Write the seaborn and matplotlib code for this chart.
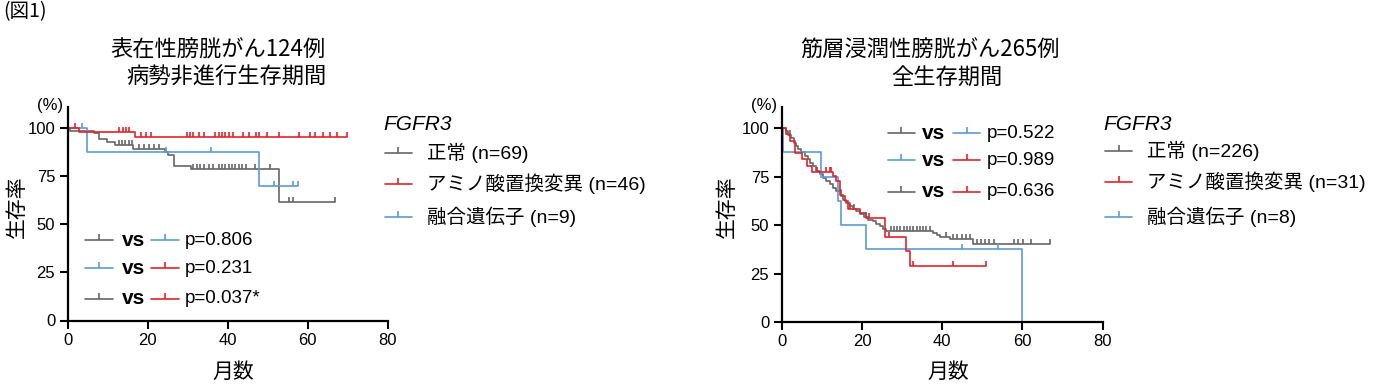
import numpy as np
import pandas as pd
import matplotlib
matplotlib.use("Agg")
import matplotlib.pyplot as plt
from matplotlib.lines import Line2D
import seaborn as sns

# ---- data (months, survival %) ----
# left: superficial bladder cancer, progression-free survival
nmibc_gray_t = [0, 0.6, 6.5, 7.8, 9.8, 11.9, 16.4, 24.2, 25.0, 26.5, 30.7, 52.8, 66.7]
nmibc_gray_s = [100, 98.6, 97.1, 94.0, 92.5, 90.9, 88.9, 87.6, 86.1, 80.0, 78.5, 61.7, 61.7]
nmibc_gray_cens = [12.7, 13.5, 14.3, 15.2, 16.0, 17.7, 19.0, 20.2, 21.5, 22.7, 31.4, 32.3, 33.1,
                   34.1, 35.2, 36.4, 37.7, 38.5, 39.3, 40.2, 41.0, 41.8, 42.7, 43.5, 44.6, 46.8,
                   50.6, 55.4, 56.3, 66.7]
nmibc_red_t = [0, 2.8, 16.8, 69.8]
nmibc_red_s = [100, 97.8, 95.3, 95.3]
nmibc_red_cens = [1.8, 12.8, 13.7, 14.5, 15.3, 18.3, 19.6, 20.8, 29.8, 30.6, 31.4, 32.8, 34.1,
                  36.8, 37.8, 38.6, 39.4, 40.3, 41.4, 43.9, 45.2, 47.0, 47.9, 49.8, 52.7, 57.7,
                  60.6, 61.8, 63.8, 65.6, 67.4, 69.8]
nmibc_blue_t = [0, 4.9, 47.7, 57.5]
nmibc_blue_s = [100, 87.5, 70.0, 70.0]
nmibc_blue_cens = [3.5, 24.5, 35.8, 51.6, 56.4, 57.5]

# right: muscle-invasive bladder cancer, overall survival
mibc_gray_t = [0, 1.15, 1.57, 2.4, 3.07, 3.65, 4.06, 4.9, 5.73, 6.56, 6.98, 7.81, 8.64, 9.47,
               10.3, 11.1, 11.96, 12.8, 13.6, 14.5, 15.3, 16.1, 17.0, 17.8, 18.6, 19.4, 20.5,
               21.5, 22.8, 23.6, 24.4, 25.3, 26.1, 37.6, 38.6, 39.5, 42.0, 47.8, 66.9]
mibc_gray_s = [100, 98.6, 96.5, 94.8, 92.5, 90.8, 89.1, 87.4, 85.6, 83.9, 82.2, 80.4, 77.8, 76.1,
               74.4, 72.7, 70.9, 69.2, 67.5, 65.7, 63.1, 61.4, 59.7, 58.5, 57.1, 55.7, 54.0,
               52.8, 51.9, 50.5, 49.3, 48.1, 47.0, 46.0, 45.1, 44.0, 42.6, 40.0, 40.0]
mibc_gray_cens = [2.0, 18.0, 21.0, 27.2, 28.0, 28.8, 29.6, 30.4, 31.2, 32.0, 32.8, 33.6, 34.4,
                  35.2, 36.0, 36.9, 41.0, 42.8, 43.8, 44.9, 46.0, 47.0, 48.6, 49.7, 50.7, 51.7,
                  52.8, 58.0, 59.0, 60.1, 62.1, 66.9]
mibc_red_t = [0, 1.0, 2.0, 3.3, 5.0, 6.2, 7.5, 12.8, 13.6, 14.5, 14.9, 15.7, 16.5, 19.4, 21.1,
              25.8, 30.9, 32.0, 50.9]
mibc_red_s = [100, 96.8, 93.5, 87.1, 83.9, 80.6, 77.4, 75.2, 72.6, 68.3, 64.9, 62.3, 58.5, 56.2,
              53.6, 44.0, 36.5, 29.1, 29.1]
mibc_red_cens = [8.9, 11.1, 12.0, 12.4, 17.0, 21.7, 26.8, 32.8, 42.8, 50.9]
mibc_blue_t = [0, 0.3, 9.9, 14.0, 14.9, 20.9, 59.9]
mibc_blue_s = [100, 87.5, 75.0, 62.5, 50.0, 37.5, 0]
mibc_blue_cens = [44.9, 53.9]

group_labels = ["正常", "アミノ酸置換変異", "融合遺伝子"]
nmibc_n = [69, 46, 9]
mibc_n = [226, 31, 8]
nmibc_p = ["p=0.806", "p=0.231", "p=0.037*"]
mibc_p = ["p=0.522", "p=0.989", "p=0.636"]
pairs = [(0, 2), (2, 1), (0, 1)]  # gray vs blue, blue vs red, gray vs red
titles = [("表在性膀胱がん124例", "病勢非進行生存期間"), ("筋層浸潤性膀胱がん265例", "全生存期間")]

GRAY, RED, BLUE = "#666666", "#e0242a", "#5b9bd5"
colors = [GRAY, RED, BLUE]

sns.set_style("ticks")
plt.rcParams["font.family"] = ["Liberation Sans", "Noto Sans CJK JP"]
plt.rcParams["text.color"] = "black"
CJK = ["Noto Sans CJK JP", "DejaVu Sans"]

W, H = 1381, 386
fig = plt.figure(figsize=(W / 100, H / 100), dpi=100)


def fx(x):
    return x / W


def fy(y):
    return 1 - y / H


def km(ax, t, s, cens, color):
    df = pd.DataFrame({"t": t, "s": s})
    sns.lineplot(data=df, x="t", y="s", ax=ax, color=color, lw=1.2,
                 drawstyle="steps-post", sort=False, estimator=None)
    idx = np.searchsorted(np.array(t), np.array(cens), side="right") - 1
    cy = np.array(s)[idx]
    cd = pd.DataFrame({"t": cens, "s": cy})
    sns.scatterplot(data=cd, x="t", y="s", ax=ax, marker=2, s=13, color=color,
                    linewidth=1.2, zorder=4)


def handle(x0, x1, y, color, tr):
    fig.add_artist(Line2D([x0, x1], [y, y], color=color, lw=1.2, transform=tr))
    fig.add_artist(Line2D([(x0 + x1) / 2], [y], color=color, marker=2, ms=4.5,
                          mew=1.2, ls="none", transform=tr))


panels = [
    dict(curves=[(nmibc_gray_t, nmibc_gray_s, nmibc_gray_cens),
                 (nmibc_red_t, nmibc_red_s, nmibc_red_cens),
                 (nmibc_blue_t, nmibc_blue_s, nmibc_blue_cens)],
         n=nmibc_n, p=nmibc_p, rect=[fx(67.7), fy(320.5), fx(320), 213.8 / H],
         rows=[0.3765, 0.2455, 0.1006], cols=[0.054, 0.142, 0.168, 0.260, 0.348, 0.367],
         title_x=[218.5, 226], ylab_x=17, xlab_x=233, pct_x=50,
         leg_x=383, leg_rows=[153, 184, 217]),
    dict(curves=[(mibc_gray_t, mibc_gray_s, mibc_gray_cens),
                 (mibc_red_t, mibc_red_s, mibc_red_cens),
                 (mibc_blue_t, mibc_blue_s, mibc_blue_cens)],
         n=mibc_n, p=mibc_p, rect=[fx(781.7), fy(322), fx(321), 215.3 / H],
         rows=[0.8765, 0.7524, 0.6052], cols=[0.331, 0.415, 0.438, 0.534, 0.618, 0.639],
         title_x=[930, 947], ylab_x=727, xlab_x=948, pct_x=764,
         leg_x=1103, leg_rows=[151, 182, 217]),
]

for k, pn in enumerate(panels):
    ax = fig.add_axes(pn["rect"])
    for i in [0, 2, 1]:
        t, s, c = pn["curves"][i]
        km(ax, t, s, c, colors[i])
    ax.set_xlim(0, 80)
    ax.set_ylim(0, 111)
    ax.set_xticks([0, 20, 40, 60, 80])
    ax.set_yticks([0, 25, 50, 75, 100])
    ax.set_xlabel("")
    ax.set_ylabel("")
    sns.despine(ax=ax)
    for sp in ["left", "bottom"]:
        ax.spines[sp].set_linewidth(1.6)
        ax.spines[sp].set_color("black")
    ax.tick_params(direction="out", length=6, width=1.5, labelsize=12, pad=3,
                   colors="black", labelcolor="black")

    # comparison p-values
    c = pn["cols"]
    for r, (a, b) in enumerate(pairs):
        y = pn["rows"][r]
        handle(c[0], c[1], y, colors[a], ax.transAxes)
        ax.text(c[2], y, "vs", transform=ax.transAxes, fontsize=15, fontweight="bold",
                va="center", ha="left")
        handle(c[3], c[4], y, colors[b], ax.transAxes)
        ax.text(c[5], y, pn["p"][r], transform=ax.transAxes, fontsize=13.5,
                va="center", ha="left")

    # group legend
    lx = pn["leg_x"]
    fig.text(fx(lx), fy(125), "FGFR3", fontsize=15, style="italic", va="center", ha="left")
    for i in range(3):
        y = pn["leg_rows"][i]
        handle(fx(lx + 2), fx(lx + 29), fy(y), colors[i], fig.transFigure)
        fig.text(fx(lx + 44), fy(y), f"{group_labels[i]} (n={pn['n'][i]})", fontsize=14,
                 va="center", ha="left")

    # titles and axis labels
    fig.text(fx(pn["title_x"][0]), fy(50), titles[k][0], fontsize=16, family=CJK,
             ha="center", va="center")
    fig.text(fx(pn["title_x"][1]), fy(77.5), titles[k][1], fontsize=16, family=CJK,
             ha="center", va="center")
    fig.text(fx(pn["ylab_x"]), fy(207), "生存率", fontsize=15, family=CJK, rotation=90,
             ha="center", va="center")
    fig.text(fx(pn["xlab_x"]), fy(372), "月数", fontsize=15, family=CJK,
             ha="center", va="center")
    fig.text(fx(pn["pct_x"]), fy(105), "(%)", fontsize=12, ha="center", va="center")

fig.text(fx(3), fy(12), "(図1)", fontsize=14, family=CJK, ha="left", va="center")

fig.savefig("out.png", dpi=100)
